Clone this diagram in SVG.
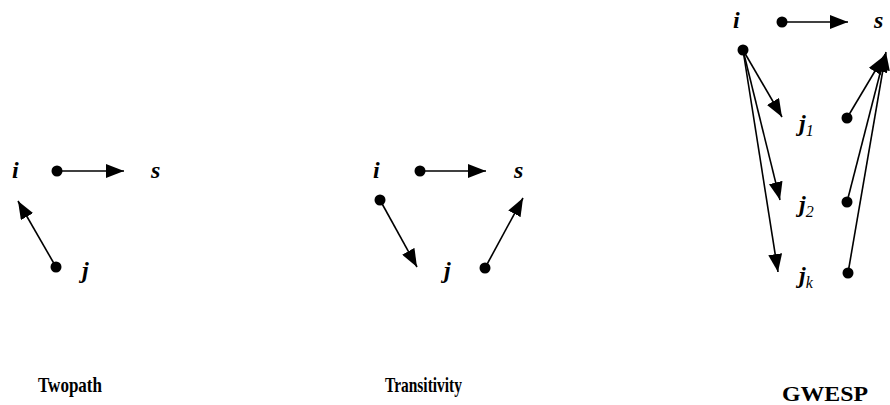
<svg xmlns="http://www.w3.org/2000/svg" width="890" height="405" viewBox="0 0 890 405">
<style>
.lbl{font-family:"Liberation Serif",serif;font-style:italic;font-weight:bold;font-size:24px;fill:#000}
.sub{font-size:16px;font-weight:normal}
.cap{font-family:"Liberation Serif",serif;font-weight:bold;font-size:22px;fill:#000}
.e{stroke:#000;stroke-width:1.6;fill:none;marker-end:url(#ah)}
.d{fill:#000}
</style>
<defs>
<marker id="ah" markerUnits="userSpaceOnUse" markerWidth="20" markerHeight="14" refX="18" refY="7" orient="auto">
<path d="M0,0 L18,7 L0,14 Z" fill="#000"/>
</marker>
</defs>
<g id="twopath">
<text class="lbl" x="12" y="178">i</text>
<text class="lbl" x="151" y="178">s</text>
<text class="lbl" x="82" y="278">j</text>
<circle class="d" cx="57" cy="171" r="5.5"/>
<circle class="d" cx="56" cy="267" r="5.5"/>
<text class="cap" x="38" y="392" textLength="64" lengthAdjust="spacingAndGlyphs">Twopath</text>
</g>
<g id="transitivity">
<text class="lbl" x="373" y="178">i</text>
<text class="lbl" x="514" y="178">s</text>
<text class="lbl" x="444" y="278">j</text>
<circle class="d" cx="420" cy="171" r="5.5"/>
<circle class="d" cx="380" cy="200" r="5.5"/>
<circle class="d" cx="485" cy="268" r="5.5"/>
<text class="cap" x="385" y="392" textLength="77" lengthAdjust="spacingAndGlyphs">Transitivity</text>
</g>
<g id="gwesp">
<text class="lbl" x="733" y="28">i</text>
<text class="lbl" x="874" y="28">s</text>
<text class="lbl" x="799" y="131">j<tspan class="sub" dy="5">1</tspan></text>
<text class="lbl" x="799" y="212">j<tspan class="sub" dy="5">2</tspan></text>
<text class="lbl" x="799" y="283">j<tspan class="sub" dy="5">k</tspan></text>
<circle class="d" cx="782" cy="22" r="5.5"/>
<circle class="d" cx="743" cy="50" r="5.5"/>
<circle class="d" cx="847" cy="118" r="5.5"/>
<circle class="d" cx="847" cy="202" r="5.5"/>
<circle class="d" cx="848" cy="273" r="5.5"/>
<text class="cap" x="782" y="401" textLength="86" lengthAdjust="spacingAndGlyphs">GWESP</text>
</g>
<g id="connectors">
<line class="e" x1="57" y1="171" x2="124" y2="171"/>
<line class="e" x1="56" y1="267" x2="18" y2="201"/>
<line class="e" x1="420" y1="171" x2="486" y2="171"/>
<line class="e" x1="380" y1="200" x2="417" y2="267"/>
<line class="e" x1="485" y1="268" x2="523" y2="198"/>
<line class="e" x1="782" y1="22" x2="848" y2="22"/>
<line class="e" x1="743" y1="50" x2="782" y2="117"/>
<line class="e" x1="743" y1="50" x2="780" y2="200"/>
<line class="e" x1="743" y1="50" x2="778" y2="272"/>
<line class="e" x1="847" y1="118" x2="884" y2="56"/>
<line class="e" x1="847" y1="202" x2="885" y2="54"/>
<line class="e" x1="848" y1="273" x2="886" y2="52"/>
</g>
</svg>
